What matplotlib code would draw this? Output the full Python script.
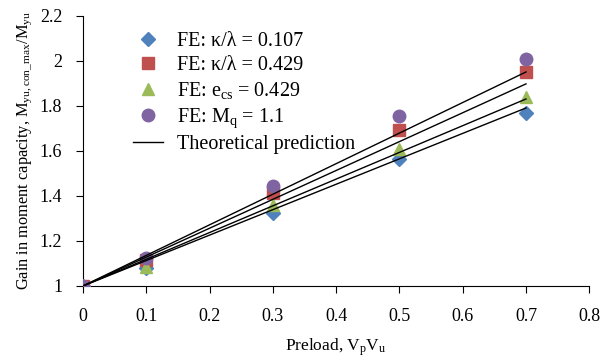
import matplotlib.pyplot as plt

plt.rcParams['font.family'] = ['Liberation Serif', 'DejaVu Serif']
plt.rcParams['mathtext.fontset'] = 'custom'
plt.rcParams['mathtext.rm'] = 'Liberation Serif'
plt.rcParams['mathtext.it'] = 'Liberation Serif'

preload = [0, 0.1, 0.3, 0.5, 0.7]
fe_k107 = [1.0, 1.08, 1.325, 1.565, 1.77]
fe_k429 = [1.0, 1.115, 1.415, 1.695, 1.95]
fe_ecs = [1.0, 1.085, 1.36, 1.61, 1.84]
fe_mq = [1.0, 1.125, 1.445, 1.755, 2.01]

theory_x = [0, 0.7]
theory = [[1.0, 1.951], [1.0, 1.898], [1.0, 1.831], [1.0, 1.791]]

fig = plt.figure(figsize=(6.1, 3.62), dpi=100)
ax = fig.add_axes([0.136, 0.21, 0.83, 0.746])

ms = 8
ax.plot(preload, fe_k107, 'D', color='#4F81BD', markersize=ms-1, label=r'FE: κ/λ = 0.107', zorder=3)
ax.plot(preload, fe_k429, 's', color='#C0504D', markersize=ms, label=r'FE: κ/λ = 0.429', zorder=3)
ax.plot(preload, fe_ecs, '^', color='#9BBB59', markersize=ms, label=r'FE: e$_{\rm cs}$ = 0.429', zorder=3)
ax.plot(preload, fe_mq, 'o', color='#8064A2', markersize=ms+1, label=r'FE: M$_{\rm q}$ = 1.1', zorder=3)
for i, t in enumerate(theory):
    ax.plot(theory_x, t, color='black', linewidth=1.0,
            label='Theoretical prediction' if i == 0 else None, zorder=4)

ax.set_xlim(0, 0.8)
ax.set_ylim(1, 2.2)
ax.set_xticks([0, 0.1, 0.2, 0.3, 0.4, 0.5, 0.6, 0.7, 0.8])
ax.set_xticklabels(['0', '0.1', '0.2', '0.3', '0.4', '0.5', '0.6', '0.7', '0.8'])
ax.set_yticks([1, 1.2, 1.4, 1.6, 1.8, 2, 2.2])
ax.set_yticklabels(['1', '1.2', '1.4', '1.6', '1.8', '2', '2.2'])
ax.spines['top'].set_visible(False)
ax.spines['right'].set_visible(False)
ax.tick_params(labelsize=13, direction='out', length=5)
ax.tick_params(axis='x', pad=11)
ax.tick_params(axis='y', pad=10)
ax.set_xlabel(r'Preload, V$_{\rm p}$V$_{\rm u}$', fontsize=12.5, labelpad=8)
ax.set_ylabel(r'Gain in moment capacity, M$_{\rm yu,con\_max}$/M$_{\rm yu}$', fontsize=11.8, labelpad=4)

ax.legend(loc='upper left', bbox_to_anchor=(0.074, 0.985), frameon=False, fontsize=14.5,
          handlelength=1.5, handletextpad=0.7, labelspacing=0.25, borderaxespad=0.2)

fig.savefig('out.png', dpi=100)
